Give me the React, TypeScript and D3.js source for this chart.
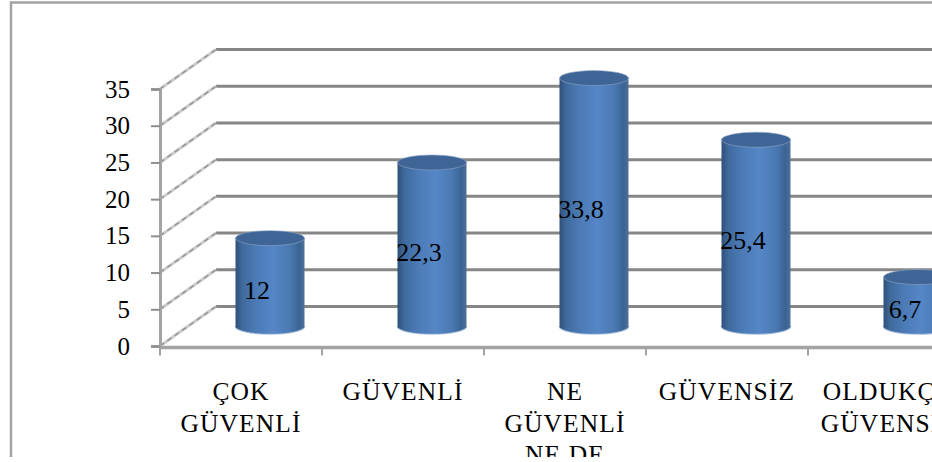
import { useEffect, useRef } from 'react';
import * as d3 from 'd3';

const categories = ['ÇOK GÜVENLİ', 'GÜVENLİ', 'NE GÜVENLİ NE DE', 'GÜVENSİZ', 'OLDUKÇA GÜVENSİZ'];
const categoryLines = [['ÇOK', 'GÜVENLİ'], ['GÜVENLİ'], ['NE', 'GÜVENLİ', 'NE DE'], ['GÜVENSİZ'], ['OLDUKÇA', 'GÜVENSİZ']];
const values = [12, 22.3, 33.8, 25.4, 6.7];
const valueLabels = ['12', '22,3', '33,8', '25,4', '6,7'];
const yTicks = [0, 5, 10, 15, 20, 25, 30, 35];

const width = 932;
const height = 462;
const cropBottom = 457; // the source picture is cut off here
const fontFamily = '"Liberation Serif", serif';
const depth = { x: 56, y: -39.5 }; // offset of the back wall from the front axis
const barShift = 1; // bars sit a touch right of the band centre

const App = () => {
    const svgRef = useRef<SVGSVGElement>(null);

    useEffect(() => {
        const svg = d3.select(svgRef.current);
        svg.selectAll('*').remove();

        const x = d3.scaleBand().domain(categories).range([160, 970]);
        const y = d3.scaleLinear().domain([0, 35]).range([346, 89]);

        const defs = svg.append('defs');
        defs.append('clipPath')
            .attr('id', 'crop')
            .append('rect')
            .attr('width', width)
            .attr('height', cropBottom);
        const grad = defs
            .append('linearGradient')
            .attr('id', 'cyl')
            .attr('x1', '0')
            .attr('x2', '1')
            .attr('y1', '0')
            .attr('y2', '0');
        [
            [0, '#2f5079'],
            [0.1, '#3f6a9e'],
            [0.3, '#4c7bb6'],
            [0.55, '#5586c6'],
            [0.78, '#4b7ab3'],
            [0.93, '#3a6393'],
            [1, '#4f7199'],
        ].forEach(([o, c]) => grad.append('stop').attr('offset', o).attr('stop-color', c));

        const root = svg.append('g').attr('clip-path', 'url(#crop)');

        // outer frame, runs off the top right
        root.append('path')
            .attr('d', `M11,${height}V2.5H${width}`)
            .attr('fill', 'none')
            .attr('stroke', '#a3a3a3')
            .attr('stroke-width', 2.5);

        // back wall lines
        root.append('g')
            .selectAll('line')
            .data(yTicks)
            .join('line')
            .attr('x1', 160 + depth.x)
            .attr('x2', width)
            .attr('y1', d => y(d) + depth.y)
            .attr('y2', d => y(d) + depth.y)
            .attr('stroke', '#868686')
            .attr('stroke-width', 3);

        // side wall lines
        const side = root.append('g');
        side.selectAll('line.base')
            .data(yTicks)
            .join('line')
            .attr('class', 'base')
            .attr('x1', 160)
            .attr('x2', 160 + depth.x)
            .attr('y1', d => y(d))
            .attr('y2', d => y(d) + depth.y)
            .attr('stroke', '#cccccc')
            .attr('stroke-width', 3);
        side.selectAll('line.dash')
            .data(yTicks)
            .join('line')
            .attr('class', 'dash')
            .attr('x1', 160)
            .attr('x2', 160 + depth.x)
            .attr('y1', d => y(d))
            .attr('y2', d => y(d) + depth.y)
            .attr('stroke', '#969696')
            .attr('stroke-width', 1.5)
            .attr('stroke-dasharray', '5 4');

        // y axis
        const yAxis = root
            .append('g')
            .attr('transform', 'translate(160,0)')
            .call(d3.axisLeft(y).tickValues(yTicks).tickSize(9).tickPadding(21).tickFormat(d3.format('d')));
        yAxis.select('.domain').attr('stroke', '#a3a3a3').attr('stroke-width', 3);
        yAxis.selectAll('.tick line').attr('stroke', '#8e8e8e').attr('stroke-width', 2);
        yAxis.selectAll('.tick text')
            .attr('font-family', fontFamily)
            .attr('font-size', 25)
            .attr('fill', '#000');

        // x axis
        const xEdges = categories.map(c => x(c) ?? 0).concat(x.range()[1]);
        const xAxis = root.append('g').attr('transform', 'translate(0,347.5)');
        xAxis.append('line')
            .attr('x1', 160)
            .attr('x2', width)
            .attr('stroke', '#a3a3a3')
            .attr('stroke-width', 3.5);
        xAxis.selectAll('line.tick')
            .data(xEdges)
            .join('line')
            .attr('class', 'tick')
            .attr('x1', d => d)
            .attr('x2', d => d)
            .attr('y1', 0)
            .attr('y2', 8)
            .attr('stroke', '#a3a3a3')
            .attr('stroke-width', 2);

        // category labels
        const labels = root
            .append('g')
            .selectAll('text')
            .data(categories)
            .join('text')
            .attr('text-anchor', 'middle')
            .attr('font-family', fontFamily)
            .attr('font-size', 25.5)
            .attr('letter-spacing', 1.1)
            .attr('fill', '#000');
        labels.each(function (d, i) {
            const cx = (x(d) ?? 0) + x.bandwidth() / 2;
            d3.select(this)
                .selectAll('tspan')
                .data(categoryLines[i])
                .join('tspan')
                .attr('x', cx)
                .attr('y', (_l, j) => 400 + j * 31.5)
                .text(l => l);
        });

        // cylinders
        const rx = 34.5;
        const ry = 7.5;
        const bars = root
            .append('g')
            .selectAll('g')
            .data(values)
            .join('g')
            .attr(
                'transform',
                (_d, i) =>
                    `translate(${(x(categories[i]) ?? 0) + x.bandwidth() / 2 + depth.x / 2 + barShift},${depth.y / 2})`
            );
        bars.append('path')
            .attr('d', `M${-rx},${y(0)}A${rx},${ry} 0 0 0 ${rx},${y(0)}`)
            .attr('fill', 'none')
            .attr('stroke', '#a9bedd')
            .attr('stroke-width', 2);
        bars.append('path')
            .attr('d', d => `M${-rx},${y(d)}V${y(0)}A${rx},${ry} 0 0 0 ${rx},${y(0)}V${y(d)}Z`)
            .attr('fill', 'url(#cyl)');
        bars.append('ellipse')
            .attr('cx', 0)
            .attr('cy', d => y(d))
            .attr('rx', rx)
            .attr('ry', ry)
            .attr('fill', '#3e6595')
            .attr('stroke', '#8ea6c8')
            .attr('stroke-width', 0.6);

        // value labels
        root.append('g')
            .selectAll('text')
            .data(values)
            .join('text')
            .attr('x', (_d, i) => (x(categories[i]) ?? 0) + x.bandwidth() / 2 + depth.x / 2 - 12)
            .attr('y', d => y(d / 2) - 12)
            .attr('dy', '0.33em')
            .attr('text-anchor', 'middle')
            .attr('font-family', fontFamily)
            .attr('font-size', 26)
            .attr('fill', '#000')
            .text((_d, i) => valueLabels[i]);
    }, []);

    return (
        <svg
            ref={svgRef}
            width={width}
            height={height}
            style={{ position: 'absolute', left: 0, top: 0, display: 'block', background: '#fff' }}
        ></svg>
    );
};

export default App;
